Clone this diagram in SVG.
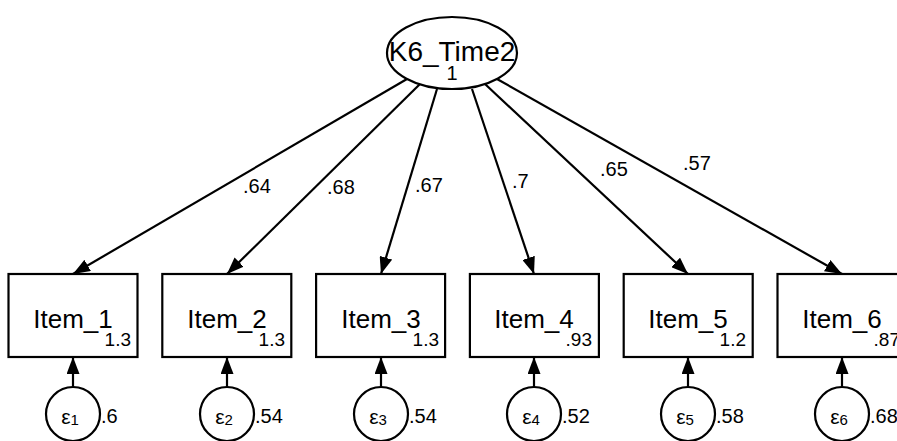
<svg xmlns="http://www.w3.org/2000/svg" width="897" height="441" viewBox="0 0 897 441">
<style>
.shape{fill:#fff;stroke:#000;stroke-width:2.2}
.conn{stroke:#000;stroke-width:2.2;fill:none}
text{font-family:"Liberation Sans",Arial,sans-serif;fill:#000}
.big{font-size:26px}
.title{font-size:28px}
.lab{font-size:20px}
.small{font-size:19px}
.eps{font-size:21px}
.sub{font-size:15px}
</style>
<defs>
<marker id="ah" markerUnits="userSpaceOnUse" markerWidth="17" markerHeight="13" refX="17" refY="6.5" orient="auto">
<path d="M0,0 L17,6.5 L0,13 z" fill="#000"/>
</marker>
</defs>
<rect width="897" height="441" fill="#fff"/>
<g id="connectors">
<line class="conn" x1="407" y1="79" x2="73" y2="274" marker-end="url(#ah)"/>
<line class="conn" x1="420" y1="84" x2="227" y2="274" marker-end="url(#ah)"/>
<line class="conn" x1="437" y1="89" x2="381" y2="274" marker-end="url(#ah)"/>
<line class="conn" x1="472" y1="89" x2="534" y2="274" marker-end="url(#ah)"/>
<line class="conn" x1="485" y1="84" x2="688" y2="274" marker-end="url(#ah)"/>
<line class="conn" x1="497" y1="79" x2="842" y2="274" marker-end="url(#ah)"/>
<line class="conn" x1="73" y1="387" x2="73" y2="357" marker-end="url(#ah)"/>
<line class="conn" x1="227" y1="387" x2="227" y2="357" marker-end="url(#ah)"/>
<line class="conn" x1="381" y1="387" x2="381" y2="357" marker-end="url(#ah)"/>
<line class="conn" x1="534" y1="387" x2="534" y2="357" marker-end="url(#ah)"/>
<line class="conn" x1="688" y1="387" x2="688" y2="357" marker-end="url(#ah)"/>
<line class="conn" x1="842" y1="387" x2="842" y2="357" marker-end="url(#ah)"/>
<text class="lab" x="243" y="193">.64</text>
<text class="lab" x="327" y="194">.68</text>
<text class="lab" x="415" y="192">.67</text>
<text class="lab" x="512" y="188">.7</text>
<text class="lab" x="600" y="176">.65</text>
<text class="lab" x="683" y="170">.57</text>
</g>
<g id="K6_Time2">
<ellipse class="shape" cx="452" cy="53" rx="65" ry="36"/>
<text class="title" x="452" y="61" text-anchor="middle">K6_Time2</text>
<text class="lab" x="452" y="80" text-anchor="middle">1</text>
</g>
<g id="Item_1">
<rect class="shape" x="8.5" y="274" width="129" height="83"/>
<text class="big" x="73" y="328" text-anchor="middle">Item_1</text>
<text class="small" x="131" y="346" text-anchor="end">1.3</text>
</g>
<g id="Item_2">
<rect class="shape" x="162.3" y="274" width="129" height="83"/>
<text class="big" x="227" y="328" text-anchor="middle">Item_2</text>
<text class="small" x="285" y="346" text-anchor="end">1.3</text>
</g>
<g id="Item_3">
<rect class="shape" x="316.1" y="274" width="129" height="83"/>
<text class="big" x="381" y="328" text-anchor="middle">Item_3</text>
<text class="small" x="439" y="346" text-anchor="end">1.3</text>
</g>
<g id="Item_4">
<rect class="shape" x="469.9" y="274" width="129" height="83"/>
<text class="big" x="534" y="328" text-anchor="middle">Item_4</text>
<text class="small" x="592" y="346" text-anchor="end">.93</text>
</g>
<g id="Item_5">
<rect class="shape" x="623.7" y="274" width="129" height="83"/>
<text class="big" x="688" y="328" text-anchor="middle">Item_5</text>
<text class="small" x="746" y="346" text-anchor="end">1.2</text>
</g>
<g id="Item_6">
<rect class="shape" x="777.5" y="274" width="129" height="83"/>
<text class="big" x="842" y="328" text-anchor="middle">Item_6</text>
<text class="small" x="900" y="346" text-anchor="end">.87</text>
</g>
<g id="e1">
<circle class="shape" cx="73" cy="414" r="27"/>
<text class="eps" x="70" y="424" text-anchor="middle">ε<tspan class="sub" dy="1">1</tspan></text>
<text class="lab" x="101" y="423">.6</text>
</g>
<g id="e2">
<circle class="shape" cx="227" cy="414" r="27"/>
<text class="eps" x="224" y="424" text-anchor="middle">ε<tspan class="sub" dy="1">2</tspan></text>
<text class="lab" x="255" y="423">.54</text>
</g>
<g id="e3">
<circle class="shape" cx="381" cy="414" r="27"/>
<text class="eps" x="378" y="424" text-anchor="middle">ε<tspan class="sub" dy="1">3</tspan></text>
<text class="lab" x="409" y="423">.54</text>
</g>
<g id="e4">
<circle class="shape" cx="534" cy="414" r="27"/>
<text class="eps" x="531" y="424" text-anchor="middle">ε<tspan class="sub" dy="1">4</tspan></text>
<text class="lab" x="562" y="423">.52</text>
</g>
<g id="e5">
<circle class="shape" cx="688" cy="414" r="27"/>
<text class="eps" x="685" y="424" text-anchor="middle">ε<tspan class="sub" dy="1">5</tspan></text>
<text class="lab" x="716" y="423">.58</text>
</g>
<g id="e6">
<circle class="shape" cx="842" cy="414" r="27"/>
<text class="eps" x="839" y="424" text-anchor="middle">ε<tspan class="sub" dy="1">6</tspan></text>
<text class="lab" x="870" y="423">.68</text>
</g>
</svg>
